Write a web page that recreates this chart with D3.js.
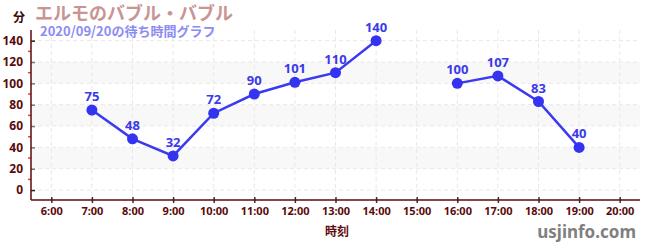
<!DOCTYPE html>
<html><head><meta charset="utf-8">
<script src="https://cdn.jsdelivr.net/npm/d3@7"></script>
<style>
html,body{margin:0;padding:0;background:#fff;}
text{font-family:"Noto Sans CJK JP","Noto Sans",sans-serif;}
</style></head>
<body><svg id="c" width="650" height="250"></svg>
<script>
const hours = [7, 8, 9, 10, 11, 12, 13, 14, 15, 16, 17, 18, 19];
const waits = [75, 48, 32, 72, 90, 101, 110, 140, null, 100, 107, 83, 40];
const xTicks = [6,7,8,9,10,11,12,13,14,15,16,17,18,19,20];
const xTickLabels = ["6:00","7:00","8:00","9:00","10:00","11:00","12:00","13:00","14:00","15:00","16:00","17:00","18:00","19:00","20:00"];
const yTicks = [0,20,40,60,80,100,120,140];
const bands = [[20,40],[60,80],[100,120]];
const title = "エルモのバブル・バブル";
const subtitle = "2020/09/20の待ち時間グラフ";

const svg = d3.select("#c");
const L = 31, R = 640, T = 30, B = 200;
const x = d3.scaleLinear().domain([5.5, 20.5]).range([L, R]);
const y = d3.scaleLinear().domain([-9.3, 150]).range([B, T]);
const dark = "#5a0a0a";

// bands
svg.append("g").selectAll("rect").data(bands).join("rect")
  .attr("x", L).attr("width", R - L)
  .attr("y", d => y(d[1])).attr("height", d => y(d[0]) - y(d[1]))
  .attr("fill", "#f8f8f8");

// grid
svg.append("g").selectAll("line").data(xTicks).join("line")
  .attr("x1", d => x(d)).attr("x2", d => x(d)).attr("y1", T).attr("y2", B)
  .attr("stroke", "#e8e8e8").attr("stroke-dasharray", "4,3");
svg.append("g").selectAll("line").data(yTicks).join("line")
  .attr("x1", L).attr("x2", R).attr("y1", d => y(d)).attr("y2", d => y(d))
  .attr("stroke", "#e8e8e8").attr("stroke-dasharray", "4,3");

// y axis
const yAxis = svg.append("g").attr("transform", `translate(${L},0)`)
  .call(d3.axisLeft(y).tickValues(yTicks).tickSize(4).tickPadding(4));
yAxis.select(".domain").remove();
yAxis.selectAll(".tick line").attr("x2", 4).attr("stroke", (d) => (d === 0 || d === 140) ? "#222" : "#777").attr("stroke-width", 1.5);
yAxis.selectAll(".tick text").attr("fill", dark).style("font-size", "12px").style("font-weight", "bold")
  .style("font-family", '"Noto Sans","Noto Sans CJK JP",sans-serif');
// minor ticks
const minor = d3.range(10, 150, 20);
svg.append("g").selectAll("line").data(minor).join("line")
  .attr("x1", L - 3).attr("x2", L).attr("y1", d => y(d)).attr("y2", d => y(d))
  .attr("stroke", "#e04040").attr("stroke-width", 1.5);
svg.append("line").attr("x1", L).attr("x2", L).attr("y1", T).attr("y2", B)
  .attr("stroke", dark).attr("stroke-width", 1.5);

// x axis
const xAxis = svg.append("g").attr("transform", `translate(0,${B})`)
  .call(d3.axisBottom(x).tickValues(xTicks).tickFormat((d, i) => xTickLabels[i]).tickSize(4).tickPadding(3));
xAxis.select(".domain").remove();
xAxis.selectAll(".tick line").attr("y1", -3).attr("y2", 3).attr("stroke", "#333").attr("stroke-width", 1.5);
xAxis.selectAll(".tick text").attr("fill", dark).style("font-size", "11px").style("font-weight", "bold")
  .style("font-family", '"Noto Sans","Noto Sans CJK JP",sans-serif');
svg.append("line").attr("x1", L).attr("x2", R).attr("y1", B).attr("y2", B)
  .attr("stroke", dark).attr("stroke-width", 1.5);

// data
const data = hours.map((h, i) => ({h, v: waits[i]}));
const line = d3.line().defined(d => d.v != null).x(d => x(d.h)).y(d => y(d.v));
svg.append("path").datum(data).attr("d", line).attr("fill", "none")
  .attr("stroke", "#3a3af0").attr("stroke-width", 2.5);
const pts = data.filter(d => d.v != null);
svg.append("g").selectAll("circle").data(pts).join("circle")
  .attr("cx", d => x(d.h)).attr("cy", d => y(d.v)).attr("r", 5.5).attr("fill", "#3434f0");
svg.append("g").selectAll("text").data(pts).join("text")
  .attr("x", d => x(d.h)).attr("y", d => y(d.v) - 9).attr("text-anchor", "middle")
  .attr("fill", "#3a3ae8").style("font-size", "13px").style("font-weight", "bold")
  .style("font-family", '"Noto Sans",sans-serif')
  .text(d => d.v);

// titles
svg.append("text").attr("x", 13).attr("y", 22).attr("fill", "#3a0808")
  .style("font-size", "12px").style("font-weight", "bold").text("分");
svg.append("text").attr("x", 35).attr("y", 20).attr("fill", "#c89494")
  .style("font-size", "18px").style("font-weight", "bold").text(title);
svg.append("text").attr("x", 40).attr("y", 36).attr("fill", "#8c8cf4")
  .style("font-size", "13px").style("font-weight", "bold").text(subtitle);
svg.append("text").attr("x", 337).attr("y", 236).attr("text-anchor", "middle").attr("fill", dark)
  .style("font-size", "12px").style("font-weight", "bold").text("時刻");
svg.append("text").attr("x", 636).attr("y", 238).attr("text-anchor", "end").attr("fill", "#808080")
  .style("font-size", "17px").style("font-weight", "bold").style("font-family", '"Noto Sans",sans-serif').text("usjinfo.com");
</script></body></html>
